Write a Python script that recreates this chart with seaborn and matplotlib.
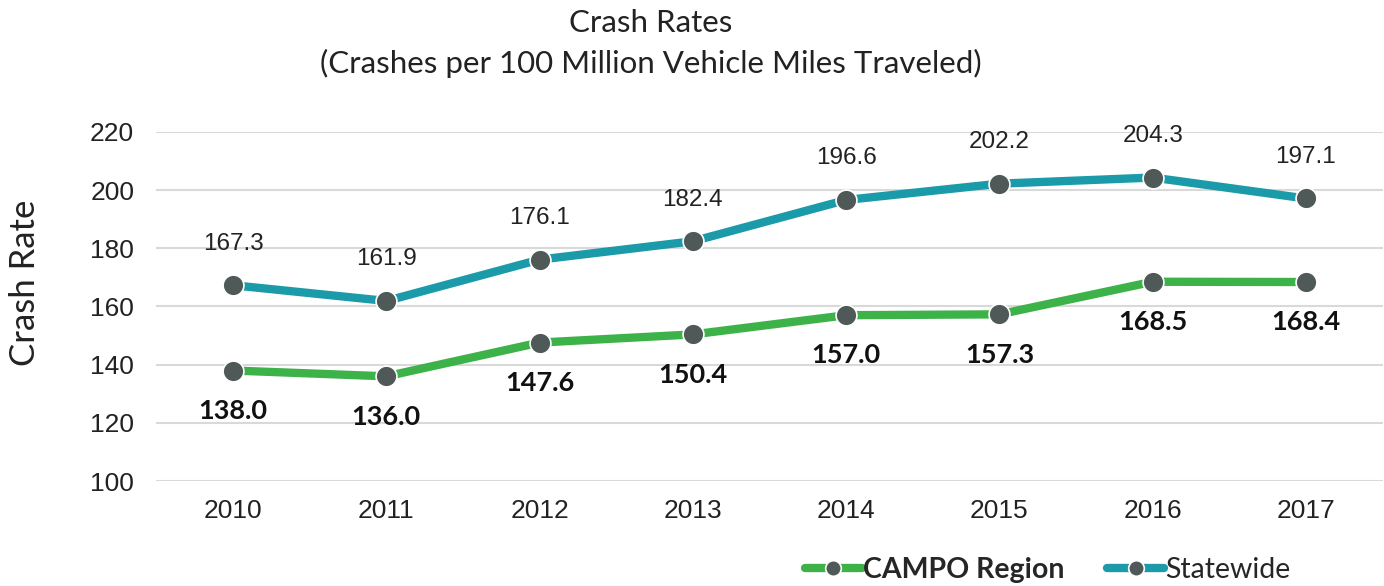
import pandas as pd
import matplotlib.pyplot as plt
import seaborn as sns

# chart values
years = ['2010', '2011', '2012', '2013', '2014', '2015', '2016', '2017']
campo = [138.0, 136.0, 147.6, 150.4, 157.0, 157.3, 168.5, 168.4]
statewide = [167.3, 161.9, 176.1, 182.4, 196.6, 202.2, 204.3, 197.1]
series_names = ['CAMPO Region', 'Statewide']
colors = {'CAMPO Region': '#3db249', 'Statewide': '#1b9aaa'}

df = pd.DataFrame({
    'Year': years * 2,
    'Rate': campo + statewide,
    'Series': [series_names[0]] * len(years) + [series_names[1]] * len(years),
})

sns.set_style('white')
plt.rcParams['font.family'] = ['Liberation Sans', 'DejaVu Sans']

fig = plt.figure(figsize=(13.84, 5.86), dpi=100)
ax = fig.add_axes([0.113, 0.179, 0.886, 0.596])

sns.lineplot(data=df, x='Year', y='Rate', hue='Series', palette=colors,
             hue_order=series_names, marker='o', markersize=15, linewidth=6,
             markerfacecolor='#4f5a58', markeredgecolor='white', markeredgewidth=1.2,
             legend=False, ax=ax, clip_on=False, zorder=3)

ax.set_ylim(100, 220)
ax.set_xlim(-0.5, len(years) - 0.5)
ax.set_yticks(range(100, 221, 20))
ax.yaxis.grid(True, color='#d9d9d9', linewidth=1.5)
ax.set_axisbelow(True)
for s in ax.spines.values():
    s.set_visible(False)
ax.tick_params(axis='both', labelsize=19, length=0, colors='#222222')
ax.tick_params(axis='x', pad=13)
ax.tick_params(axis='y', pad=16)
ax.set_xlabel('')
ax.set_ylabel('')
fig.text(0.018, 0.517, 'Crash Rate', rotation=90, ha='center', va='center',
         fontsize=25, family='Lato', color='#222222')

# data labels
for i, v in enumerate(statewide):
    ax.annotate(f'{v:.1f}', (i, v), xytext=(0, 30), textcoords='offset points',
                ha='center', va='center', fontsize=17.5, color='#222222')
for i, v in enumerate(campo):
    ax.annotate(f'{v:.1f}', (i, v), xytext=(0, -29), textcoords='offset points',
                ha='center', va='center', fontsize=19.5, fontweight='bold',
                family='Lato', color='#111111')

fig.text(0.47, 0.96, 'Crash Rates', ha='center', va='center', fontsize=22.5,
         family='Lato', color='#222222')
fig.text(0.47, 0.892, '(Crashes per 100 Million Vehicle Miles Traveled)', ha='center',
         va='center', fontsize=22.5, family='Lato', color='#222222')

handles = ax.get_lines()[:2]
leg = fig.legend(handles, series_names, loc='center', bbox_to_anchor=(0.757, 0.027),
                 ncol=2, frameon=False, handlelength=2.0, markerscale=0.75,
                 handletextpad=0.05, columnspacing=1.5,
                 prop={'family': 'Lato', 'size': 20.5})
leg.get_texts()[0].set_fontweight('bold')

fig.savefig('out.png', dpi=100)
